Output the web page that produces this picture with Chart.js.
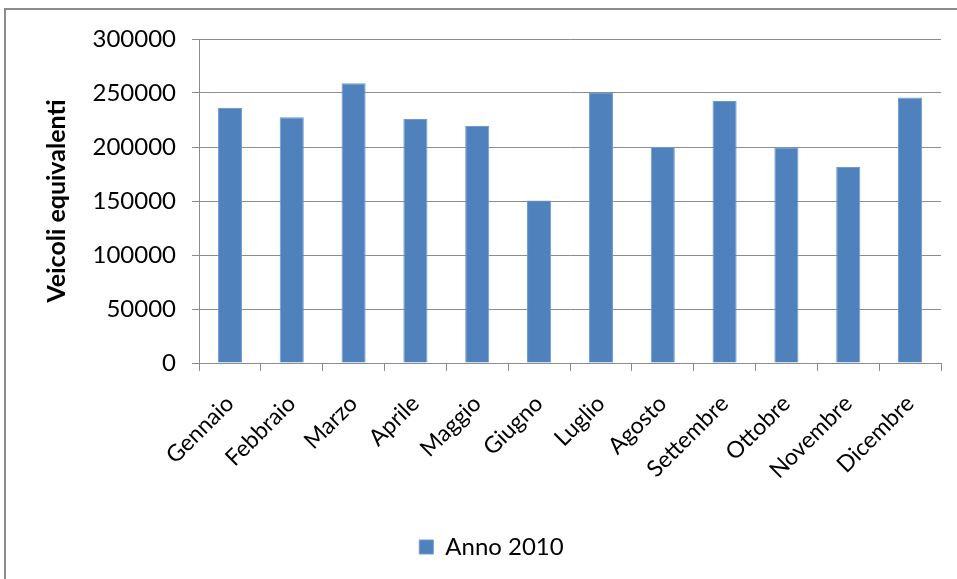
<!DOCTYPE html>
<html>
<head>
<meta charset="utf-8">
<script src="https://cdn.jsdelivr.net/npm/chart.js@4/dist/chart.umd.min.js"></script>
<style>
html,body{margin:0;padding:0;background:#fff;}
#wrap{width:957px;height:579px;position:relative;}
</style>
</head>
<body>
<div id="wrap"><canvas id="c" width="957" height="579"></canvas></div>
<script>
const categories = ["Gennaio","Febbraio","Marzo","Aprile","Maggio","Giugno","Luglio","Agosto","Settembre","Ottobre","Novembre","Dicembre"];
const anno2010 = [236000, 227500, 259000, 226000, 219500, 150500, 250000, 200000, 242500, 199800, 181500, 245800];
const yTicks = [0, 50000, 100000, 150000, 200000, 250000, 300000];
const seriesName = "Anno 2010";
const yTitle = "Veicoli equivalenti";

const FONT = "Lato, 'Open Sans', sans-serif";

const frame = {
  id: 'frame',
  beforeDraw(chart) {
    const ctx = chart.ctx;
    ctx.save();
    ctx.fillStyle = '#fff';
    ctx.fillRect(0, 0, chart.width, chart.height);
    ctx.strokeStyle = '#8c8c8c';
    ctx.lineWidth = 2;
    ctx.strokeRect(5, 9, chart.width + 10, chart.height + 10);
    ctx.restore();
  }
};

new Chart(document.getElementById('c'), {
  type: 'bar',
  data: {
    labels: categories,
    datasets: [{
      label: seriesName,
      data: anno2010,
      backgroundColor: '#4F81BD',
      borderColor: '#6f9ad0',
      borderWidth: 1,
      categoryPercentage: 1.0,
      barPercentage: 0.39
    }]
  },
  options: {
    responsive: false,
    animation: false,
    devicePixelRatio: 1,
    layout: { padding: { top: 39, right: 16, bottom: 10, left: 42 } },
    plugins: {
      legend: {
        position: 'bottom',
        labels: {
          font: { family: FONT, size: 24 },
          color: '#000',
          boxWidth: 14,
          boxHeight: 14,
          padding: 8
        }
      },
      tooltip: { enabled: false }
    },
    scales: {
      x: {
        afterFit(s) { s.height = 164; },
        grid: { display: true, drawOnChartArea: false, offset: true, tickLength: 8, color: '#8c8c8c' },
        border: { color: '#8c8c8c' },
        ticks: {
          font: { family: FONT, size: 23 },
          color: '#000',
          minRotation: 45,
          maxRotation: 45,
          padding: 19
        }
      },
      y: {
        min: 0,
        max: 300000,
        afterFit(s) { s.width = 157; },
        afterBuildTicks(s) { s.ticks = yTicks.map(v => ({ value: v })); },
        grid: { color: '#8c8c8c', tickLength: 7 },
        border: { color: '#8c8c8c' },
        ticks: {
          font: { family: FONT, size: 24 },
          color: '#000',
          padding: 16,
          callback: v => String(v)
        },
        title: {
          display: true,
          text: yTitle,
          font: { family: FONT, size: 25, weight: 'bold' },
          color: '#000',
          padding: { top: 0, bottom: 0 }
        }
      }
    }
  },
  plugins: [frame]
});
</script>
</body>
</html>
